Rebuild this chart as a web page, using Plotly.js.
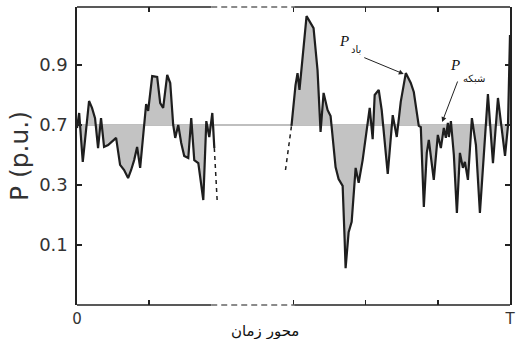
<!DOCTYPE html>
<html>
<head>
<meta charset="utf-8">
<script src="https://cdn.plot.ly/plotly-3.0.1.min.js"></script>
<style>html,body{margin:0;padding:0;background:#fff;}#chart{width:517px;height:339px;}</style>
</head>
<body>
<div id="chart"></div>
<script>
// Time axis (0 .. T) and wind power
var time1 = [0,0.03,0.08,0.167,0.208,0.25,0.292,0.333,0.375,0.431,0.542,0.597,0.653,0.708,0.75,0.792,0.833,0.875,0.958,0.986,1.042,1.111,1.153,1.194,1.25,1.292,1.333,1.361,1.403,1.444,1.486,1.542,1.583,1.625,1.681,1.75,1.792,1.833,1.875,1.903];
var power1 = [0.49,0.54,0.377,0.58,0.557,0.523,0.423,0.523,0.427,0.433,0.457,0.367,0.35,0.323,0.35,0.383,0.427,0.357,0.57,0.547,0.663,0.66,0.573,0.557,0.667,0.64,0.5,0.457,0.5,0.44,0.397,0.39,0.523,0.383,0.373,0.25,0.513,0.46,0.54,0.423];
var gapEndTime = [1.903,1.944];
var gapEndPower = [0.423,0.24];
var gapStartTime = [2.889,2.972];
var gapStartPower = [0.35,0.497];
var time2 = [2.972,3.028,3.056,3.083,3.181,3.25,3.278,3.333,3.375,3.417,3.444,3.472,3.514,3.556,3.583,3.625,3.681,3.708,3.722,3.764,3.806,3.861,3.903,3.958,4.0,4.056,4.097,4.125,4.181,4.222,4.306,4.375,4.431,4.486,4.556,4.625,4.667,4.736,4.764,4.806,4.847,4.875,4.944,4.972,5.0,5.042,5.083,5.111,5.139,5.153,5.181,5.222,5.264,5.306,5.347,5.375,5.417,5.472,5.528,5.583,5.639,5.694,5.764,5.833,5.931,5.972,6.0];
var power2 = [0.497,0.633,0.673,0.617,0.863,0.833,0.823,0.683,0.477,0.607,0.58,0.55,0.53,0.433,0.36,0.32,0.297,0.123,0.023,0.143,0.177,0.357,0.307,0.383,0.46,0.557,0.453,0.6,0.617,0.55,0.337,0.533,0.46,0.577,0.673,0.64,0.61,0.497,0.493,0.227,0.407,0.45,0.317,0.407,0.467,0.423,0.49,0.457,0.507,0.46,0.513,0.4,0.207,0.407,0.357,0.377,0.317,0.523,0.433,0.207,0.39,0.603,0.373,0.59,0.397,0.497,0.8];
var gridLevel = 0.5;          // network power level (line labelled 0.7)
var yTickVals = [0.1,0.3,0.5,0.7];
var yTickText = ["0.1","0.3","0.7","0.9"];
var xTickVals = [0,1,3,4,5,6];
var xTickText = ["0","","","","","T"];
var breakStart = 1.86, breakEnd = 3.01;

function flat(arr){ return arr.map(function(){ return gridLevel; }); }
var lineCol = '#1e1e1e';
var fillCol = 'rgba(195,195,195,1)';

var traces = [
  {x:[0,6], y:[gridLevel,gridLevel], mode:'lines', line:{color:'#808080', width:1.2}, hoverinfo:'skip'},
  {x:time1, y:flat(time1), mode:'lines', line:{width:0}, hoverinfo:'skip'},
  {x:time1, y:power1, mode:'lines', fill:'tonexty', fillcolor:fillCol, line:{color:lineCol, width:2.2}},
  {x:time2, y:flat(time2), mode:'lines', line:{width:0}, hoverinfo:'skip'},
  {x:time2, y:power2, mode:'lines', fill:'tonexty', fillcolor:fillCol, line:{color:lineCol, width:2.2}},
  {x:gapEndTime, y:gapEndPower, mode:'lines', line:{color:lineCol, width:1.5, dash:'4px,4px'}},
  {x:gapStartTime, y:gapStartPower, mode:'lines', line:{color:lineCol, width:1.5, dash:'4px,4px'}}
];

var frameShapes = [
  {type:'line', xref:'x', yref:'paper', x0:0, x1:breakStart, y0:0, y1:0, line:{color:'#222', width:1.6}},
  {type:'line', xref:'x', yref:'paper', x0:breakStart, x1:breakEnd, y0:0, y1:0, line:{color:'#666', width:1.4, dash:'6px,4px'}},
  {type:'line', xref:'x', yref:'paper', x0:breakEnd, x1:6, y0:0, y1:0, line:{color:'#222', width:1.6}},
  {type:'line', xref:'x', yref:'paper', x0:0, x1:breakStart, y0:1, y1:1, line:{color:'#222', width:1.6}},
  {type:'line', xref:'x', yref:'paper', x0:breakStart, x1:breakEnd, y0:1, y1:1, line:{color:'#666', width:1.4, dash:'6px,4px'}},
  {type:'line', xref:'x', yref:'paper', x0:breakEnd, x1:6, y0:1, y1:1, line:{color:'#222', width:1.6}}
];

var layout = {
  width:517, height:339,
  margin:{l:77, r:7, t:7, b:34},
  paper_bgcolor:'#fff', plot_bgcolor:'#fff',
  showlegend:false,
  xaxis:{range:[0,6], showgrid:false, zeroline:false, showline:false,
         tickmode:'array', tickvals:xTickVals, ticktext:xTickText,
         ticks:'inside', ticklen:5, tickwidth:1.4, tickcolor:'#222', mirror:'ticks',
         ticklabelstandoff:3,
         tickfont:{family:'DejaVu Sans', size:15, color:'#333'}},
  yaxis:{range:[-0.1,0.8933], showgrid:false, zeroline:false, showline:true, linecolor:'#222', linewidth:1.6,
         mirror:'ticks', ticks:'inside', ticklen:5, tickwidth:1.4, tickcolor:'#222',
         tickmode:'array', tickvals:yTickVals, ticktext:yTickText, ticklabelstandoff:4,
         tickfont:{family:'DejaVu Sans', size:18, color:'#333'},
         title:{text:'P (p.u.)', font:{family:'DejaVu Sans', size:25, color:'#333'}, standoff:3}},
  shapes: frameShapes,
  annotations:[
    {xref:'paper', yref:'paper', x:0.435, y:-0.088, yanchor:'middle', xanchor:'center', showarrow:false,
     text:'محور زمان', font:{family:'DejaVu Sans', size:15, color:'#111'}},
    {x:4.528, y:0.67, xref:'x', yref:'y', text:'', showarrow:true, arrowhead:2, arrowsize:1, arrowwidth:1, arrowcolor:'#222', ax:-41, ay:-17},
    {x:5.06, y:0.51, xref:'x', yref:'y', text:'', showarrow:true, arrowhead:2, arrowsize:1, arrowwidth:1, arrowcolor:'#222', ax:16, ay:-42},
    {x:3.70, y:0.78, xref:'x', yref:'y', xanchor:'center', yanchor:'middle', showarrow:false,
     text:'<i>P</i>', font:{family:'Liberation Serif', size:15, color:'#111'}},
    {x:3.86, y:0.75, xref:'x', yref:'y', xanchor:'center', yanchor:'middle', showarrow:false,
     text:'باد', font:{family:'DejaVu Sans', size:10, color:'#111'}},
    {x:5.24, y:0.70, xref:'x', yref:'y', xanchor:'center', yanchor:'middle', showarrow:false,
     text:'<i>P</i>', font:{family:'Liberation Serif', size:15, color:'#111'}},
    {x:5.5, y:0.655, xref:'x', yref:'y', xanchor:'center', yanchor:'middle', showarrow:false,
     text:'شبکه', font:{family:'DejaVu Sans', size:10, color:'#111'}}
  ]
};

Plotly.newPlot('chart', traces, layout, {displayModeBar:false, staticPlot:true});
</script>
</body>
</html>
